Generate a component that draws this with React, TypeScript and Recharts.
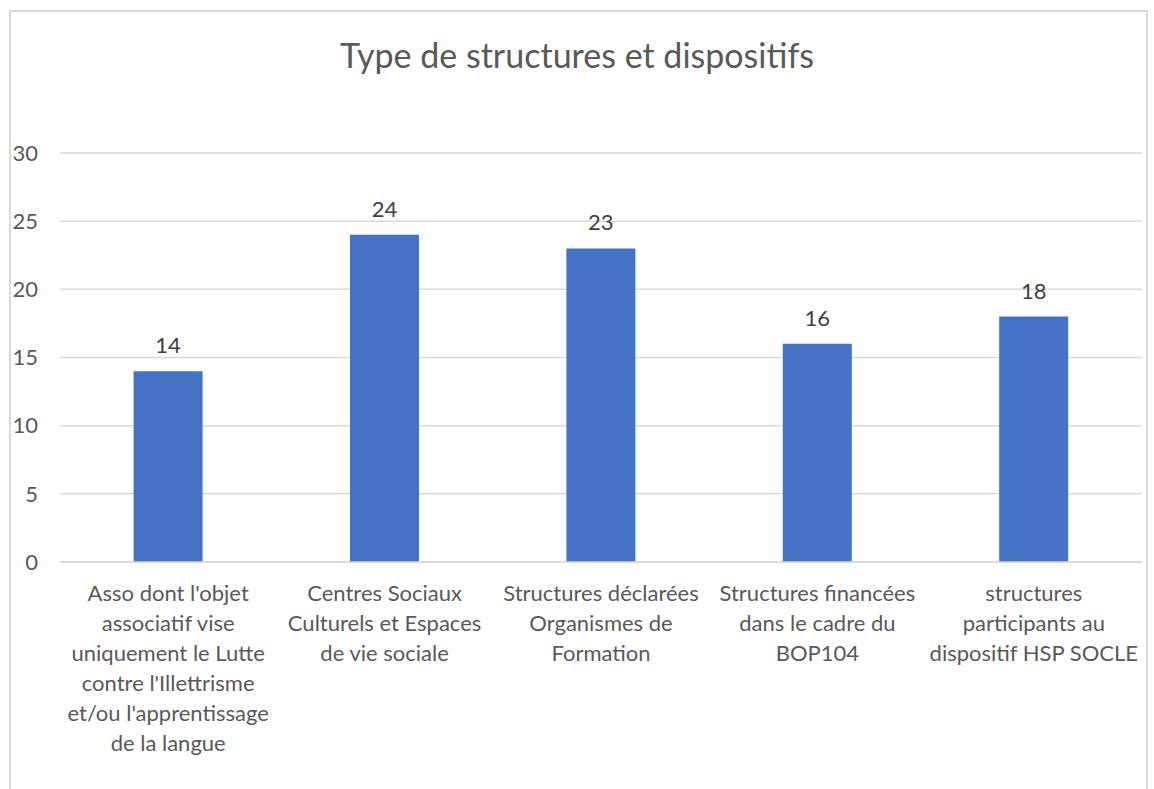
import { BarChart, Bar, XAxis, YAxis, CartesianGrid, LabelList } from 'recharts';

const categories = [
  "Asso dont l'objet\nassociatif vise\nuniquement le Lutte\ncontre l'Illettrisme\net/ou l'apprentissage\nde la langue",
  "Centres Sociaux\nCulturels et  Espaces\nde vie sociale",
  "Structures déclarées\nOrganismes de\nFormation",
  "Structures financées\ndans le cadre du\nBOP104",
  "structures\nparticipants au\ndispositif HSP SOCLE",
];
const values = [14, 24, 23, 16, 18];
const yTicks = [0, 5, 10, 15, 20, 25, 30];

const data = categories.map((name, i) => ({ name, value: values[i] }));

const FONT = "Lato, 'Noto Sans', sans-serif";

const CategoryTick = ({ x, y, payload }: any) => {
  const lines = String(payload.value).split("\n");
  return (
    <text x={x} y={y} textAnchor="middle" fill="#595959" fontSize={22} fontFamily={FONT}>
      {lines.map((l, i) => (
        <tspan key={i} x={x} dy={i === 0 ? 39 : 30}>{l}</tspan>
      ))}
    </text>
  );
};

export default function App() {
  return (
    <div style={{ position: 'absolute', left: 0, top: 0, width: 1154, height: 789, overflow: 'hidden', background: '#fff' }}>
      <div style={{ position: 'absolute', left: 9, top: 10, width: 1135, height: 900, border: '2px solid #D9D9D9' }} />
      <div style={{ position: 'absolute', left: 0, top: 34, width: 1154, textAlign: 'center', fontFamily: FONT, fontSize: 34, color: '#595959' }}>
        Type de structures et dispositifs
      </div>
      <div style={{ position: 'absolute', left: 0, top: 0 }}>
        <BarChart width={1154} height={789} data={data} margin={{ top: 153, right: 12, bottom: 0, left: 10 }} barCategoryGap="34%">
          <CartesianGrid vertical={false} stroke="#D9D9D9" strokeWidth={1.5} />
          <XAxis dataKey="name" height={227} interval={0} axisLine={{ stroke: '#D9D9D9', strokeWidth: 1.5 }} tickLine={false} tickSize={0} tickMargin={0} tick={<CategoryTick />} />
          <YAxis width={50} domain={[0, 30]} ticks={yTicks} axisLine={false} tickLine={false} tickSize={0} tickMargin={22} tick={{ fill: '#595959', fontSize: 22, fontFamily: FONT }} />
          <Bar dataKey="value" fill="#4472C4" isAnimationActive={false}>
            <LabelList dataKey="value" position="top" offset={18} fill="#404040" fontSize={22} fontFamily={FONT} />
          </Bar>
        </BarChart>
      </div>
    </div>
  );
}
